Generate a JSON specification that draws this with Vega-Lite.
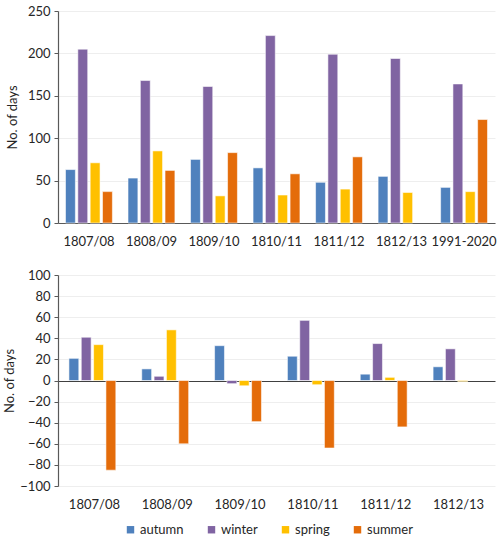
{
  "$schema": "https://vega.github.io/schema/vega-lite/v6.json",
  "background": "white",
  "padding": {"left": 3, "top": 5, "right": 3, "bottom": 0},
  "datasets": {
    "days": [
      {"period": "1807/08", "season": "autumn", "days": 63},
      {"period": "1807/08", "season": "winter", "days": 205},
      {"period": "1807/08", "season": "spring", "days": 71},
      {"period": "1807/08", "season": "summer", "days": 37},
      {"period": "1808/09", "season": "autumn", "days": 53},
      {"period": "1808/09", "season": "winter", "days": 168},
      {"period": "1808/09", "season": "spring", "days": 85},
      {"period": "1808/09", "season": "summer", "days": 62},
      {"period": "1809/10", "season": "autumn", "days": 75},
      {"period": "1809/10", "season": "winter", "days": 161},
      {"period": "1809/10", "season": "spring", "days": 32},
      {"period": "1809/10", "season": "summer", "days": 83},
      {"period": "1810/11", "season": "autumn", "days": 65},
      {"period": "1810/11", "season": "winter", "days": 221},
      {"period": "1810/11", "season": "spring", "days": 33},
      {"period": "1810/11", "season": "summer", "days": 58},
      {"period": "1811/12", "season": "autumn", "days": 48},
      {"period": "1811/12", "season": "winter", "days": 199},
      {"period": "1811/12", "season": "spring", "days": 40},
      {"period": "1811/12", "season": "summer", "days": 78},
      {"period": "1812/13", "season": "autumn", "days": 55},
      {"period": "1812/13", "season": "winter", "days": 194},
      {"period": "1812/13", "season": "spring", "days": 36},
      {"period": "1991-2020", "season": "autumn", "days": 42},
      {"period": "1991-2020", "season": "winter", "days": 164},
      {"period": "1991-2020", "season": "spring", "days": 37},
      {"period": "1991-2020", "season": "summer", "days": 122}
    ],
    "diff": [
      {"period": "1807/08", "season": "autumn", "days": 21},
      {"period": "1807/08", "season": "winter", "days": 41},
      {"period": "1807/08", "season": "spring", "days": 34},
      {"period": "1807/08", "season": "summer", "days": -85},
      {"period": "1808/09", "season": "autumn", "days": 11},
      {"period": "1808/09", "season": "winter", "days": 4},
      {"period": "1808/09", "season": "spring", "days": 48},
      {"period": "1808/09", "season": "summer", "days": -60},
      {"period": "1809/10", "season": "autumn", "days": 33},
      {"period": "1809/10", "season": "winter", "days": -3},
      {"period": "1809/10", "season": "spring", "days": -5},
      {"period": "1809/10", "season": "summer", "days": -39},
      {"period": "1810/11", "season": "autumn", "days": 23},
      {"period": "1810/11", "season": "winter", "days": 57},
      {"period": "1810/11", "season": "spring", "days": -4},
      {"period": "1810/11", "season": "summer", "days": -64},
      {"period": "1811/12", "season": "autumn", "days": 6},
      {"period": "1811/12", "season": "winter", "days": 35},
      {"period": "1811/12", "season": "spring", "days": 3},
      {"period": "1811/12", "season": "summer", "days": -44},
      {"period": "1812/13", "season": "autumn", "days": 13},
      {"period": "1812/13", "season": "winter", "days": 30},
      {"period": "1812/13", "season": "spring", "days": -1}
    ]
  },
  "spacing": 21,
  "resolve": {"legend": {"color": "independent"}},
  "vconcat": [
    {
      "width": 437,
      "height": 212,
      "data": {"name": "days"},
      "mark": {"type": "bar", "stroke": "white", "strokeWidth": 0.8, "strokeOpacity": 0.7},
      "encoding": {
        "x": {
          "field": "period",
          "type": "nominal",
          "sort": null,
          "scale": {"paddingInner": 0.25, "paddingOuter": 0.12},
          "axis": {"title": null, "labelAngle": 0, "ticks": false, "domainColor": "#595959", "domainWidth": 1.2, "labelPadding": 12}
        },
        "xOffset": {
          "field": "season",
          "sort": ["autumn", "winter", "spring", "summer"],
          "scale": {"domain": ["autumn", "winter", "spring", "summer"], "paddingInner": 0.2}
        },
        "y": {
          "field": "days",
          "type": "quantitative",
          "scale": {"domain": [0, 250], "nice": false},
          "axis": {"title": "No. of days", "values": [0, 50, 100, 150, 200, 250]}
        },
        "color": {
          "field": "season",
          "type": "nominal",
          "scale": {"domain": ["autumn", "winter", "spring", "summer"], "range": ["#4f81bd", "#8064a2", "#ffc000", "#e46c0a"]},
          "legend": null
        }
      }
    },
    {
      "width": 437,
      "height": 211,
      "data": {"name": "diff"},
      "mark": {"type": "bar", "stroke": "white", "strokeWidth": 0.8, "strokeOpacity": 0.7},
      "encoding": {
        "x": {
          "field": "period",
          "type": "nominal",
          "sort": null,
          "scale": {"paddingInner": 0.3, "paddingOuter": 0.15},
          "axis": {"title": null, "labelAngle": 0, "ticks": false, "domain": false, "labelPadding": 12}
        },
        "xOffset": {
          "field": "season",
          "sort": ["autumn", "winter", "spring", "summer"],
          "scale": {"domain": ["autumn", "winter", "spring", "summer"], "paddingInner": 0.2}
        },
        "y": {
          "field": "days",
          "type": "quantitative",
          "scale": {"domain": [-100, 100], "nice": false},
          "axis": {
            "title": "No. of days",
            "values": [-100, -80, -60, -40, -20, 0, 20, 40, 60, 80, 100],
            "format": "d",
            "labelOverlap": false,
            "tickCount": 11,
            "gridColor": {"condition": {"test": "datum.value === 0", "value": "#404040"}, "value": "#eeeeee"},
            "gridWidth": {"condition": {"test": "datum.value === 0", "value": 1.2}, "value": 1}
          }
        },
        "color": {
          "field": "season",
          "type": "nominal",
          "scale": {"domain": ["autumn", "winter", "spring", "summer"], "range": ["#4f81bd", "#8064a2", "#ffc000", "#e46c0a"]},
          "legend": {
            "orient": "none",
            "legendX": 66,
            "legendY": 248,
            "direction": "horizontal",
            "title": null,
            "symbolType": "square",
            "symbolSize": 55,
            "symbolStrokeWidth": 0,
            "columnPadding": 21,
            "labelOffset": 3,
            "labelFontSize": 13
          }
        }
      }
    }
  ],
  "config": {
    "font": "Lato",
    "view": {"stroke": null},
    "axis": {
      "labelFont": "Lato",
      "labelFontSize": 13,
      "labelColor": "#262626",
      "titleFont": "Lato",
      "titleFontSize": 13,
      "titleFontWeight": "normal",
      "titleColor": "#262626",
      "gridColor": "#eeeeee",
      "gridWidth": 1
    },
    "axisY": {
      "domainColor": "#595959",
      "domainWidth": 1.2,
      "tickColor": "#595959",
      "tickSize": 4,
      "labelPadding": 4,
      "minExtent": 36,
      "titlePadding": 3,
      "labelOverlap": false
    },
    "axisX": {"grid": false},
    "legend": {"labelFont": "Lato", "labelColor": "#262626"}
  }
}
